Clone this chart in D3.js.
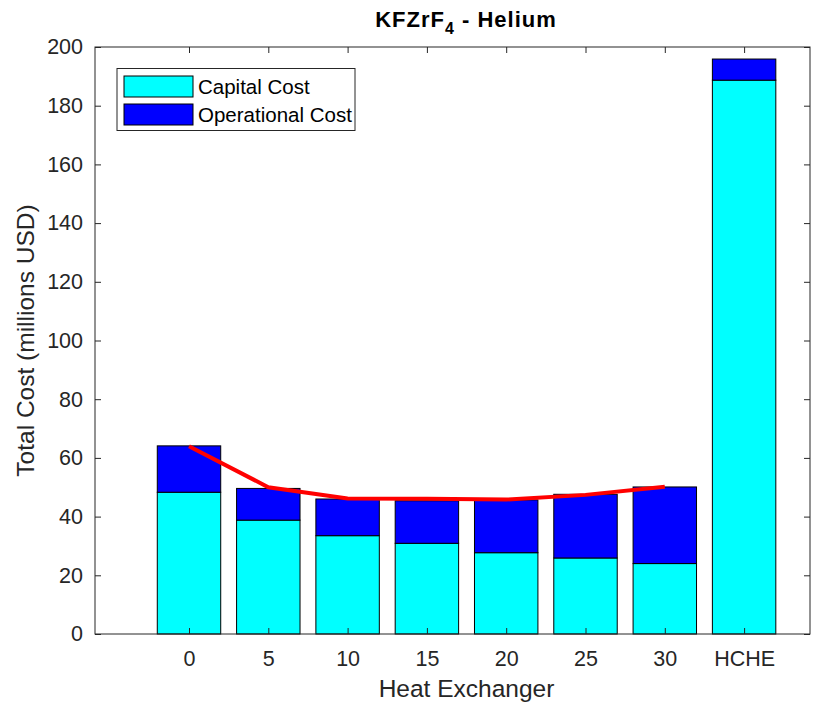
<!DOCTYPE html>
<html><head><meta charset="utf-8">
<script src="https://cdn.jsdelivr.net/npm/d3@7"></script>
<style>body{margin:0;background:#fff}svg{display:block}text{font-family:"Liberation Sans",Arial,sans-serif}</style>
</head><body><svg id="c" width="830" height="708"></svg>
<script>
const categories = ["0","5","10","15","20","25","30","HCHE"];
const capitalCost = [48.3, 38.8, 33.5, 30.9, 27.7, 25.9, 24.0, 188.7];
const operationalCost = [15.8, 10.8, 12.5, 14.5, 18.0, 21.7, 26.1, 7.2];
const lineValues = [64.0, 50.0, 46.2, 46.1, 45.8, 47.4, 50.2];
const yTicks = [0,20,40,60,80,100,120,140,160,180,200];
const seriesNames = ["Capital Cost","Operational Cost"];
const colors = ["#00ffff","#0000ff"];

const svg = d3.select("#c");
const L=95, R=810, T=47, B=634;
const step = 79.3;
const x = d3.scaleLinear().domain([0,7]).range([189, 189+7*step]);
const y = d3.scaleLinear().domain([0,200]).range([B,T]);
const bw = step*0.8;
const axisCol = "#262626";
const tickFont = "21.5px";

// bars
const g = svg.append("g");
categories.forEach((c,i)=>{
  g.append("rect").attr("x",x(i)-bw/2).attr("width",bw)
    .attr("y",y(capitalCost[i])).attr("height",y(0)-y(capitalCost[i]))
    .attr("fill",colors[0]).attr("stroke","#000").attr("stroke-width",1);
  const tot = capitalCost[i]+operationalCost[i];
  g.append("rect").attr("x",x(i)-bw/2).attr("width",bw)
    .attr("y",y(tot)).attr("height",y(capitalCost[i])-y(tot))
    .attr("fill",colors[1]).attr("stroke","#000").attr("stroke-width",1);
});

// red line
svg.append("path").datum(lineValues)
  .attr("d", d3.line().x((d,i)=>x(i)).y(d=>y(d)))
  .attr("fill","none").attr("stroke","#ff0000").attr("stroke-width",4);

// box
svg.append("rect").attr("x",L).attr("y",T).attr("width",R-L).attr("height",B-T)
  .attr("fill","none").attr("stroke",axisCol).attr("stroke-width",1);

// axes
const yAxis = d3.axisLeft(y).tickValues(yTicks).tickSize(-6).tickPadding(12);
const ya = svg.append("g").attr("transform",`translate(${L},0)`).call(yAxis);
const yaR = svg.append("g").attr("transform",`translate(${R},0)`).call(d3.axisRight(y).tickValues(yTicks).tickSize(-6).tickFormat(""));
const xAxis = d3.axisBottom(x).tickValues(d3.range(8)).tickFormat(i=>categories[i]).tickSize(-6).tickPadding(17);
const xa = svg.append("g").attr("transform",`translate(0,${B})`).call(xAxis);
const xaT = svg.append("g").attr("transform",`translate(0,${T})`).call(d3.axisTop(x).tickValues(d3.range(8)).tickSize(-6).tickFormat(""));
[ya,yaR,xa,xaT].forEach(a=>{
  a.select(".domain").remove();
  a.selectAll("line").attr("stroke",axisCol);
  a.selectAll("text").attr("fill",axisCol).style("font-size",tickFont).style("font-family",'"Liberation Sans",Arial,sans-serif');
});

// labels
svg.append("text").attr("x",(L+R)/2+14).attr("y",697).attr("text-anchor","middle")
  .attr("fill",axisCol).style("font-size","24.5px").text("Heat Exchanger");
svg.append("text").attr("transform",`translate(34,${(T+B)/2}) rotate(-90)`).attr("text-anchor","middle")
  .attr("fill",axisCol).style("font-size","24.5px").text("Total Cost (millions USD)");
const title = svg.append("text").attr("x",466).attr("y",27).attr("text-anchor","middle")
  .attr("fill","#000").style("font-size","22px").style("font-weight","bold").style("letter-spacing","1px");
title.append("tspan").text("KFZrF");
title.append("tspan").attr("dy",7).style("font-size","16px").text("4");
title.append("tspan").attr("dy",-7).text(" - Helium");

// legend
const lg = svg.append("g");
lg.append("rect").attr("x",117).attr("y",68.5).attr("width",238).attr("height",62)
  .attr("fill","#fff").attr("stroke",axisCol).attr("stroke-width",1);
seriesNames.forEach((n,i)=>{
  const yy = 76 + i*28;
  lg.append("rect").attr("x",124).attr("y",yy).attr("width",69).attr("height",21)
    .attr("fill",colors[i]).attr("stroke","#000").attr("stroke-width",1);
  lg.append("text").attr("x",198).attr("y",yy+18).attr("fill","#000")
    .style("font-size","20.5px").text(n);
});
</script></body></html>
